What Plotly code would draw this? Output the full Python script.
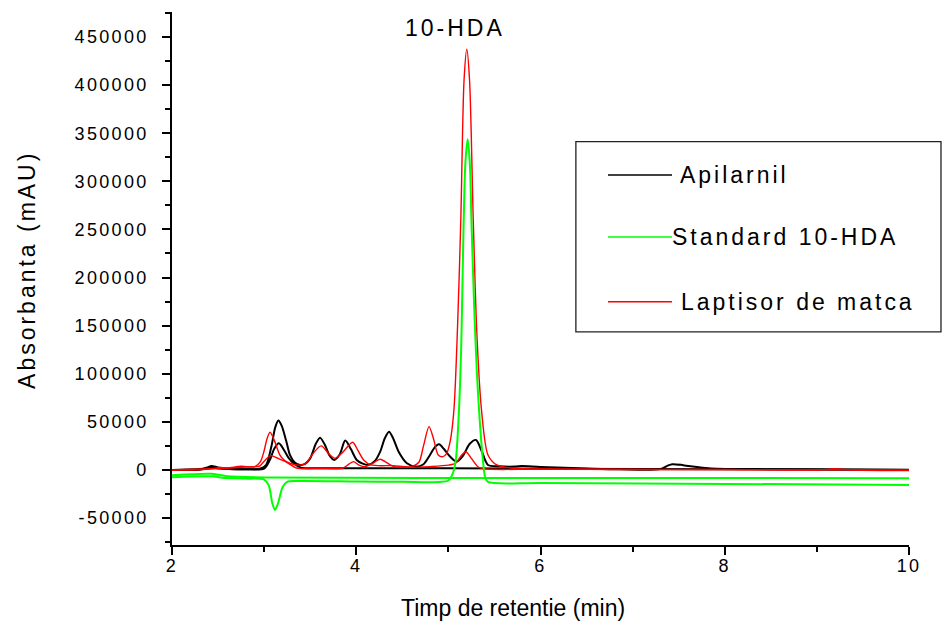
import plotly.graph_objects as go

# ---- Chromatogram data: retention time (min) and absorbance (mAU) ----
apilarnil_a_t = [2.00, 2.30, 2.38, 2.43, 2.50, 2.60, 2.80, 2.95, 3.02, 3.08, 3.12, 3.155, 3.19, 3.24,
                 3.28, 3.33, 3.38, 3.44, 3.50, 3.56, 3.607, 3.66, 3.71, 3.76, 3.82, 3.88, 3.94, 4.005,
                 4.07, 4.13, 4.20, 4.26, 4.31, 4.356, 4.40, 4.46, 4.55, 4.65, 4.73, 4.80, 4.86, 4.90,
                 4.95, 5.02, 5.09, 5.16, 5.23, 5.30, 5.36, 5.43, 5.55, 5.72, 5.80, 6.00, 6.50, 6.86,
                 7.30, 7.38, 7.43, 7.55, 7.70, 7.85, 8.50, 9.20, 10.0]
apilarnil_a_y = [0, 300, 2500, 4200, 2500, 1200, 800, 1200, 5000, 25000, 44000, 51300, 46000, 30000,
                 15600, 8000, 5500, 6000, 12000, 27000, 33600, 26000, 15000, 10400, 16000, 30500, 22000, 10400,
                 6500, 5200, 9000, 19000, 33000, 39800, 33000, 19000, 7000, 3400, 6000, 15600, 24500, 26700,
                 22000, 13800, 8700, 15000, 27000, 31200, 20000, 5200, 3800, 3500, 4000, 3000, 1500, 700,
                 1000, 4500, 6000, 5000, 3000, 1500, 800, 500, 0]

apilarnil_b_t = [2.00, 2.38, 2.43, 2.50, 2.80, 3.00, 3.06, 3.11, 3.16, 3.22, 3.27, 3.32, 3.40, 3.60,
                 4.00, 5.00, 6.00, 8.00, 10.0]
apilarnil_b_y = [0, 1500, 2500, 1500, 800, 1500, 10000, 22000, 27700, 20000, 12000, 7000, 2400, 1800,
                 1700, 1700, 1300, 800, 300]

laptisor_a_t = [2.00, 2.30, 2.45, 2.52, 2.60, 2.75, 2.90, 2.96, 3.00, 3.03, 3.064, 3.11, 3.17, 3.22,
                3.28, 3.37, 3.45, 3.53, 3.62, 3.70, 3.77, 3.85, 3.96, 4.02, 4.08, 4.16, 4.40, 4.60,
                4.68, 4.73, 4.79, 4.84, 4.89, 4.94, 4.98, 5.02, 5.06, 5.10, 5.135, 5.17, 5.20, 5.23,
                5.27, 5.31, 5.36, 5.43, 5.525, 5.71, 6.00, 6.50, 7.50, 8.00, 9.00, 9.20, 9.40, 10.0]
laptisor_a_y = [0, 200, 1500, 2500, 2000, 3800, 3500, 8700, 20000, 32000, 39200, 31000, 15600, 10000,
                7000, 5000, 6500, 17000, 25000, 17000, 12100, 18000, 28800, 20000, 10400, 5200, 4500, 3400,
                8000, 25000, 45000, 32000, 15600, 13800, 17000, 30000, 62000, 150000, 260000, 405000, 437300, 405000,
                260000, 140000, 62000, 15600, 5200, 1700, 1000, 700, 300, 500, 0, 1200, 0, -700]

laptisor_b_t = [2.00, 2.50, 2.80, 2.95, 3.00, 3.07, 3.15, 3.245, 3.35, 3.60, 3.85, 3.92, 3.97, 4.03,
                4.10, 4.18, 4.26, 4.34, 4.41, 4.60, 4.80, 5.00, 5.08, 5.14, 5.19, 5.25, 5.32, 5.38,
                6.00, 10.0]
laptisor_b_y = [0, 1500, 3000, 4000, 9000, 14900, 12000, 8000, 2000, 1500, 1800, 6000, 8700, 5000,
                3400, 7000, 11100, 7000, 3400, 2700, 3500, 5000, 7000, 15000, 19000, 12000, 3400, 1200,
                800, 0]

standard_a_t = [2.00, 2.43, 2.55, 2.80, 3.00, 3.05, 3.09, 3.118, 3.15, 3.20, 3.25, 3.35, 4.00, 4.50,
                4.90, 5.00, 5.05, 5.08, 5.11, 5.14, 5.16, 5.185, 5.21, 5.235, 5.25, 5.28, 5.31, 5.34,
                5.37, 5.40, 5.43, 6.00, 8.00, 10.0]
standard_a_y = [-7500, -6500, -8000, -9000, -10000, -16000, -35000, -41600, -35000, -18000, -12500, -11500,
                -12000, -12300, -12500, -11000, -3000, 10000, 52000, 130000, 230000, 320000, 343700,
                315000, 260000, 170000, 100000, 52000, 15000, -8000, -12500, -13500, -14500, -15600]

standard_b_t = [2.00, 2.43, 2.60, 3.00, 6.00, 10.0]
standard_b_y = [-5500, -4000, -6500, -7800, -8300, -8600]

y_tick_vals = [-50000, 0, 50000, 100000, 150000, 200000, 250000, 300000, 350000, 400000, 450000]
y_tick_text = ["-50000", "0", "50000", "100000", "150000", "200000", "250000", "300000",
               "350000", "400000", "450000"]
x_tick_vals = [2, 4, 6, 8, 10]
x_tick_text = ["2", "4", "6", "8", "10"]

legend_names = ["Apilarnil", "Standard 10-HDA", "Laptisor de matca"]
legend_colors = ["#000000", "#00ff00", "#ff0000"]

X_TITLE = "Timp de retentie (min)"
Y_TITLE = "Absorbanta (mAU)"
PEAK_LABEL = "10-HDA"

FONT = "Liberation Sans, Arial, sans-serif"

fig = go.Figure()

series = [
    (apilarnil_a_t, apilarnil_a_y, "#000000", 2.0, legend_names[0]),
    (apilarnil_b_t, apilarnil_b_y, "#000000", 2.0, legend_names[0]),
    (laptisor_a_t, laptisor_a_y, "#ff0000", 1.4, legend_names[2]),
    (laptisor_b_t, laptisor_b_y, "#ff0000", 1.4, legend_names[2]),
    (standard_b_t, standard_b_y, "#00ff00", 2.0, legend_names[1]),
    (standard_a_t, standard_a_y, "#00ff00", 2.0, legend_names[1]),
]
for t, y, color, width, name in series:
    fig.add_trace(go.Scatter(x=t, y=y, mode="lines", name=name, showlegend=False,
                             line=dict(color=color, width=width, shape="spline", smoothing=0.8),
                             hoverinfo="skip"))

axis_common = dict(showline=True, linecolor="black", linewidth=1.5, ticks="outside",
                   tickcolor="black", tickwidth=1.5, ticklen=8, showgrid=False, zeroline=False,
                   mirror=False, tickfont=dict(family=FONT, size=18, color="black"))

fig.update_xaxes(range=[2, 10], tickvals=x_tick_vals, ticktext=x_tick_text,
                 ticklabelstandoff=-4,
                 minor=dict(dtick=1, tick0=2, ticks="outside", ticklen=5, tickcolor="black", tickwidth=1.5),
                 **axis_common)
fig.update_yaxes(range=[-78000, 476000], tickvals=y_tick_vals, ticktext=y_tick_text,
                 ticklabelstandoff=10,
                 minor=dict(dtick=25000, tick0=0, ticks="outside", ticklen=5, tickcolor="black", tickwidth=1.5),
                 **axis_common)

annotations = [
    dict(x=5.07, y=459000, xref="x", yref="y", text=PEAK_LABEL, showarrow=False,
         font=dict(family=FONT, size=23, color="black"), xanchor="center", yanchor="middle"),
    dict(x=0.4627, y=-0.118, xref="paper", yref="paper", text=X_TITLE, showarrow=False,
         font=dict(family=FONT, size=23, color="black"), xanchor="center", yanchor="middle"),
    dict(x=-0.1967, y=0.516, xref="paper", yref="paper", text=Y_TITLE, showarrow=False,
         textangle=-90, font=dict(family=FONT, size=23, color="black"), xanchor="center", yanchor="middle"),
]

# hand-built legend box with long line samples
shapes = [dict(type="rect", xref="paper", yref="paper", x0=0.548, x1=1.0434, y0=0.400, y1=0.7567,
               line=dict(color="#222222", width=1.3), fillcolor="rgba(0,0,0,0)", layer="above")]
legend_rows_y = [0.6942, 0.5779, 0.4565]
legend_text_x = [0.6866, 0.6757, 0.6879]
for name, color, ry, tx in zip(legend_names, legend_colors, legend_rows_y, legend_text_x):
    shapes.append(dict(type="line", xref="paper", yref="paper", x0=0.5916, x1=0.6784, y0=ry, y1=ry,
                       line=dict(color=color, width=1.5)))
    annotations.append(dict(x=tx, y=ry, xref="paper", yref="paper", text=name, showarrow=False,
                            align="left", xanchor="left", yanchor="middle",
                            font=dict(family=FONT, size=23, color="black")))

fig.update_layout(width=942, height=622, margin=dict(l=172, r=33, t=12, b=77),
                  plot_bgcolor="white", paper_bgcolor="white", showlegend=False,
                  annotations=annotations, shapes=shapes)

# widen the letter spacing of the labels (the x-axis title keeps normal spacing)
spacing_js = ("document.getElementById('{plot_id}').querySelectorAll('svg text').forEach(function(el){"
              "if (el.textContent !== '" + X_TITLE + "') { el.style.letterSpacing='0.13em'; }});")
fig.write_html("out.html", post_script=spacing_js)
